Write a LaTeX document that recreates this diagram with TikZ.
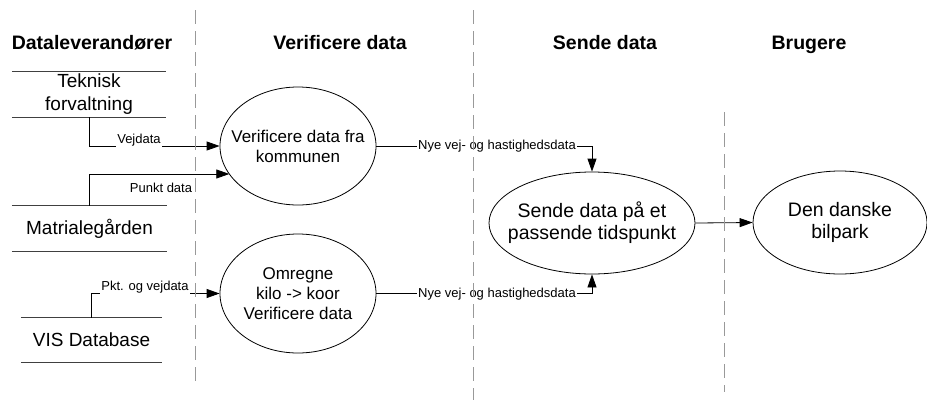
\documentclass[tikz,border=0pt]{standalone}
\usepackage{fontspec}
\setmainfont{Liberation Sans}
\usetikzlibrary{shapes.geometric,arrows.meta,intersections}
\begin{document}
\begin{tikzpicture}[x=1pt,y=-1pt,
  title/.style={font=\fontsize{19.5}{22}\selectfont\bfseries, anchor=base, inner sep=0},
  store/.style={minimum width=#1, minimum height=45, inner sep=0, align=center, font=\fontsize{19}{23}\selectfont},
  storeline/.style={line width=1.3pt, draw=black!75},
  proc/.style={ellipse, draw, line width=0.8pt, inner xsep=-40pt, inner ysep=0pt, align=center},
  flow/.style={line width=0.8pt, -{Triangle[length=13pt,width=9pt]}},
  lbl/.style={font=\fontsize{13}{15}\selectfont, fill=white, inner sep=1pt},
  lane/.style={draw=black!40, line width=1pt, dash pattern=on 14pt off 7pt}]
\useasboundingbox (0,0) rectangle (927,400);

% titles
\node[title] (t1) at (92,49) {Dataleverandører};
\node[title] (t2) at (340,49) {Verificere data};
\node[title] (t3) at (605,49) {Sende data};
\node[title] (t4) at (809,49) {Brugere};

% data stores
\node[store=154] (S1) at (89,94.5) {Teknisk\\forvaltning};
\node[store=155] (S2) at (89.5,228.5) {Matrialegården};
\node[store=141, minimum height=44] (S3) at (91.5,340) {VIS Database};
\foreach \s in {S1,S2,S3}{
  \draw[storeline] (\s.north west) -- (\s.north east);
  \draw[storeline] (\s.south west) -- (\s.south east);
}

% processes
\node[proc, name path=e1path, minimum width=156, minimum height=118, font=\fontsize{17}{20}\selectfont] (E1) at (298,146) {Verificere data fra\\kommunen};
\node[proc, minimum width=156, minimum height=119, font=\fontsize{17}{20}\selectfont] (E2) at (298,293.5) {Omregne\\kilo -> koor\\Verificere data};
\node[proc, minimum width=206, minimum height=102, font=\fontsize{19.5}{22}\selectfont] (E3) at (592,223) {Sende data på et\\passende tidspunkt};
\node[proc, minimum width=174, minimum height=103, font=\fontsize{19.5}{22}\selectfont] (E4) at (840,222.5) {Den danske\\bilpark};

% flows
\draw[flow] (S1.south) |- (E1.west);
\node[lbl] (l1) at (139,140) {Vejdata};

\path[name path=h1] (89.5,174) -- (300,174);
\path[name intersections={of=e1path and h1, by=p1}];
\draw[flow] (S2.north) |- (p1);
\node[lbl, fill=none] (l2) at (161,188) {Punkt data};

\draw[flow] (S3.north) |- (E2.west);
\node[lbl] (l3) at (145,287) {Pkt. og vejdata};

\draw[flow] (E1.east) -| (E3.north);
\node[lbl] (l4) at (497,146) {Nye vej- og hastighedsdata};

\draw[flow] (E2.east) -| (E3.south);
\node[lbl] (l5) at (497,294) {Nye vej- og hastighedsdata};

\draw[flow] (E3.east) -- (E4.west);

% swimlane separators
\draw[lane] (195,10) -- (195,385);
\draw[lane] (473,10) -- (473,400);
\draw[lane] (724,112) -- (724,392);
\end{tikzpicture}
\end{document}
